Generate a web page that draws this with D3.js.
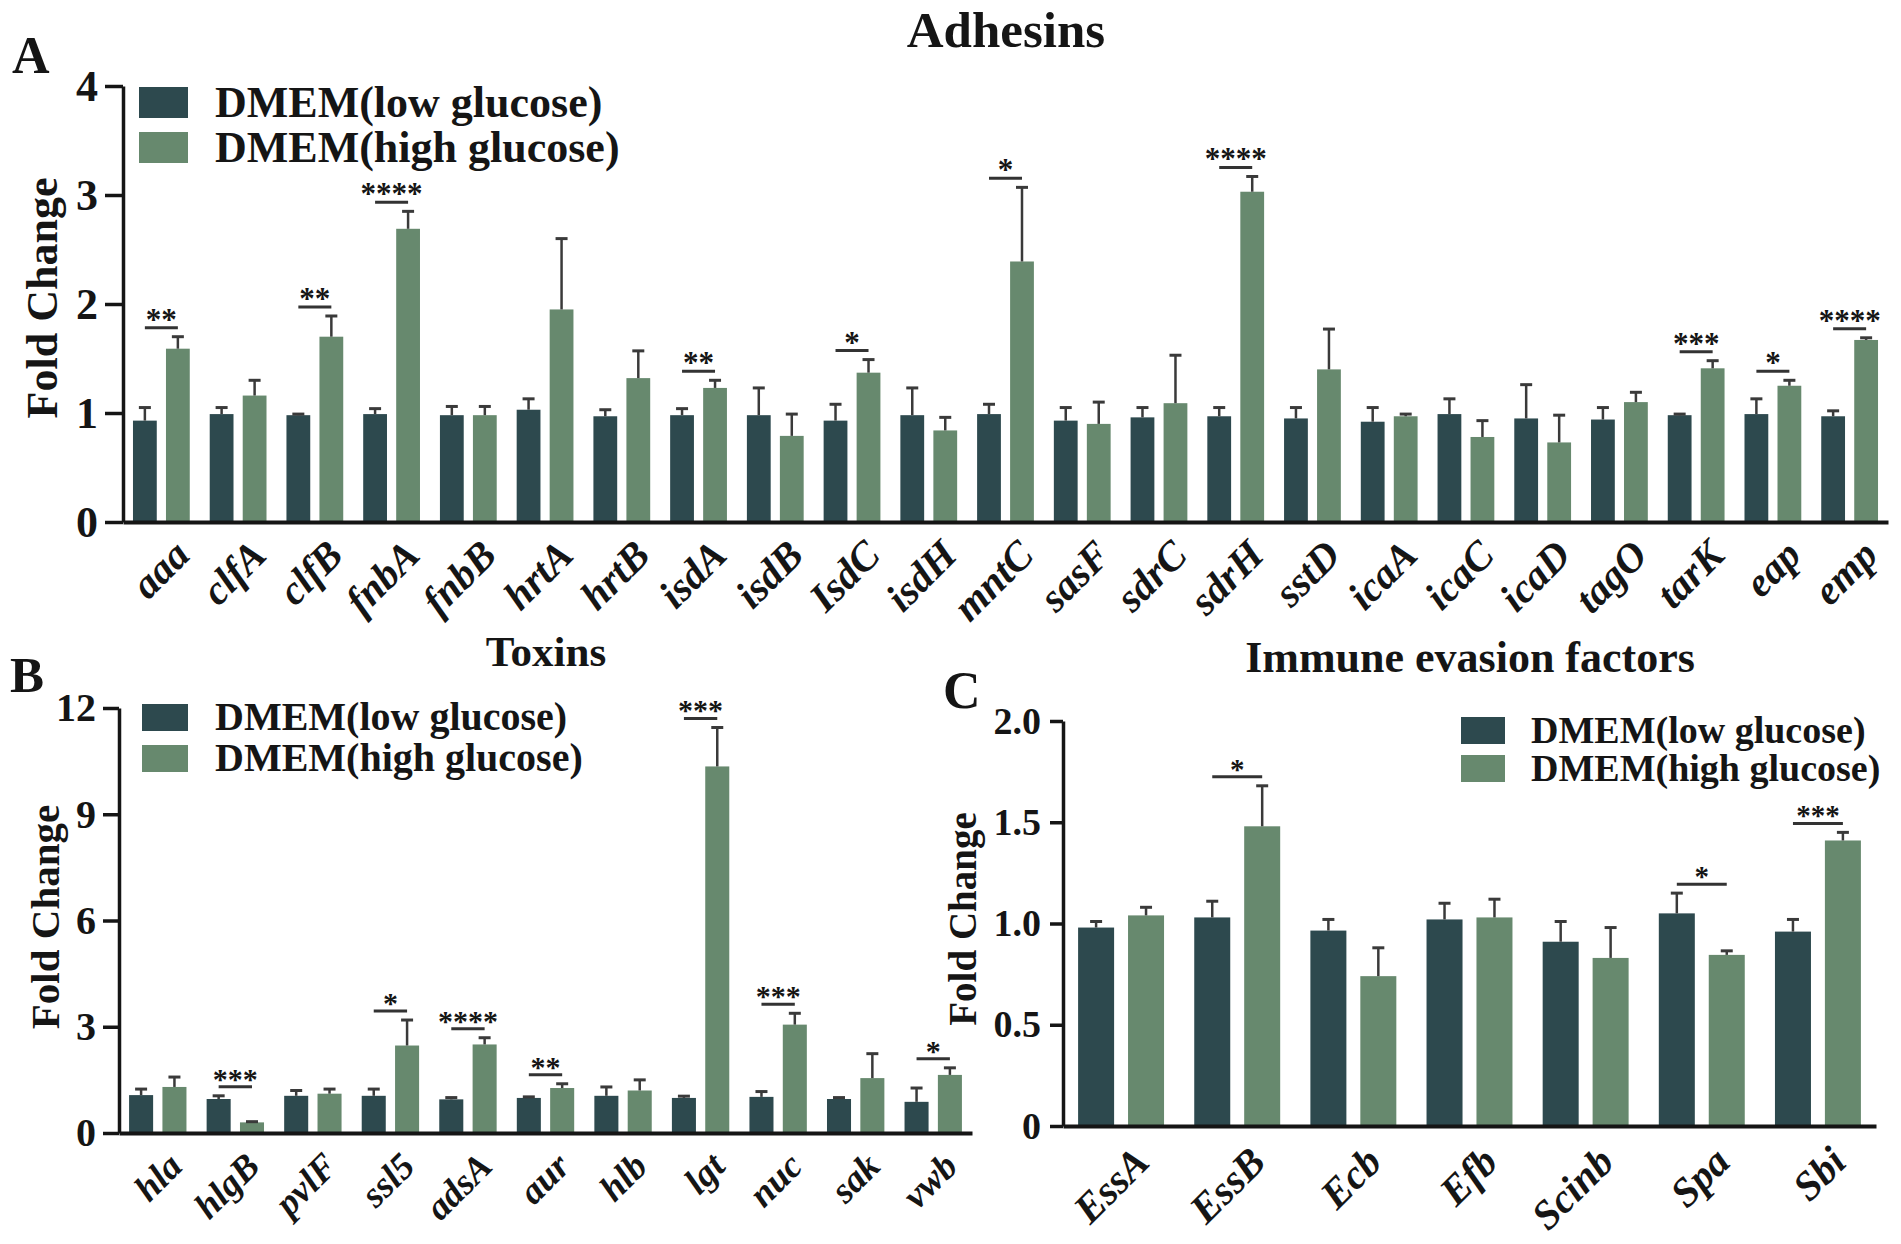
<!DOCTYPE html>
<html>
<head>
<meta charset="utf-8">
<title>Fold change of virulence genes</title>
<script src="https://cdn.jsdelivr.net/npm/d3@7/dist/d3.min.js"></script>
<style>
  body { margin: 0; background: #fff; }
  svg { display: block; }
  svg text { font-family: "Liberation Serif", "Times New Roman", serif; font-weight: bold; }
</style>
</head>
<body>
<script>
// values: mean fold change + upper error (SD)
var seriesNames = ["DMEM(low glucose)", "DMEM(high glucose)"];

// A - adhesins
var adhesinGenes = ["aaa", "clfA", "clfB", "fnbA", "fnbB", "hrtA", "hrtB", "isdA", "isdB", "IsdC", "isdH", "mntC",
                    "sasF", "sdrC", "sdrH", "sstD", "icaA", "icaC", "icaD", "tagO", "tarK", "eap", "emp"];
var adhesinLow     = [0.93, 0.99, 0.98, 0.99, 0.98, 1.03, 0.97, 0.98, 0.98, 0.93, 0.98, 0.99,
                      0.93, 0.96, 0.97, 0.95, 0.92, 0.99, 0.95, 0.94, 0.98, 0.99, 0.97];
var adhesinLowErr  = [0.12, 0.06, 0.01, 0.05, 0.08, 0.10, 0.06, 0.06, 0.25, 0.15, 0.25, 0.09,
                      0.12, 0.09, 0.08, 0.10, 0.13, 0.14, 0.31, 0.11, 0.01, 0.14, 0.05];
var adhesinHigh    = [1.59, 1.16, 1.70, 2.69, 0.98, 1.95, 1.32, 1.23, 0.79, 1.37, 0.84, 2.39,
                      0.90, 1.09, 3.03, 1.40, 0.97, 0.78, 0.73, 1.10, 1.41, 1.25, 1.67];
var adhesinHighErr = [0.11, 0.14, 0.19, 0.16, 0.08, 0.65, 0.25, 0.07, 0.20, 0.12, 0.12, 0.68,
                      0.20, 0.44, 0.14, 0.37, 0.02, 0.15, 0.25, 0.09, 0.07, 0.05, 0.02];
var adhesinSig     = ["**", "", "**", "****", "", "", "", "**", "", "*", "", "*",
                      "", "", "****", "", "", "", "", "", "***", "*", "****"];

// B - toxins
var toxinGenes   = ["hla", "hlgB", "pvlF", "ssl5", "adsA", "aur", "hlb", "lgt", "nuc", "sak", "vwb"];
var toxinLow     = [1.07, 0.96, 1.05, 1.05, 0.95, 0.99, 1.05, 0.99, 1.02, 0.96, 0.88];
var toxinLowErr  = [0.17, 0.09, 0.15, 0.19, 0.05, 0.03, 0.25, 0.05, 0.15, 0.04, 0.39];
var toxinHigh    = [1.30, 0.30, 1.11, 2.47, 2.50, 1.27, 1.20, 10.35, 3.06, 1.55, 1.64];
var toxinHighErr = [0.28, 0.02, 0.13, 0.72, 0.19, 0.12, 0.30, 1.10, 0.32, 0.69, 0.20];
var toxinSig     = ["", "***", "", "*", "****", "**", "", "***", "***", "", "*"];

// C - immune evasion factors
var immuneGenes   = ["EssA", "EssB", "Ecb", "Efb", "Scinb", "Spa", "Sbi"];
var immuneLow     = [0.98, 1.03, 0.965, 1.02, 0.91, 1.05, 0.96];
var immuneLowErr  = [0.03, 0.08, 0.055, 0.08, 0.10, 0.10, 0.06];
var immuneHigh    = [1.04, 1.48, 0.74, 1.03, 0.83, 0.845, 1.41];
var immuneHighErr = [0.04, 0.20, 0.14, 0.09, 0.15, 0.02, 0.04];
var immuneSig     = ["", "*", "", "", "", "*", "***"];

var width = 1901, height = 1244;
var colors = ["#2d494e", "#67896e"];
var ink = "#151515";
var serif = '"Liberation Serif", "Times New Roman", serif';

var svg = d3.select("body").append("svg")
    .attr("width", width)
    .attr("height", height);
svg.append("rect").attr("width", width).attr("height", height).attr("fill", "#fff");

function drawPanel(p) {
  var g = svg.append("g");
  var x = d3.scaleBand().domain(p.genes).range([p.left, p.right]);
  var y = d3.scaleLinear().domain([0, p.yMax]).range([p.bottom, p.top]);
  var bw = x.bandwidth();
  var offs = [0.13, 0.56], wFrac = 0.31;

  var rows = p.genes.map(function(d, i) {
    return {gene: d, vals: [p.low[i], p.high[i]], errs: [p.lowErr[i], p.highErr[i]], sig: p.sig[i]};
  });

  // bars + error bars
  rows.forEach(function(r) {
    [0, 1].forEach(function(k) {
      var bx = x(r.gene) + offs[k] * bw;
      var cx = bx + wFrac * bw / 2;
      g.append("rect")
        .attr("x", bx)
        .attr("y", y(r.vals[k]))
        .attr("width", wFrac * bw)
        .attr("height", y(0) - y(r.vals[k]))
        .attr("fill", colors[k]);
      var top = y(r.vals[k] + r.errs[k]);
      g.append("line")
        .attr("x1", cx).attr("x2", cx)
        .attr("y1", y(r.vals[k])).attr("y2", top)
        .attr("stroke", "#3a3a3a").attr("stroke-width", 2.5);
      g.append("line")
        .attr("x1", cx - 6).attr("x2", cx + 6)
        .attr("y1", top).attr("y2", top)
        .attr("stroke", "#3a3a3a").attr("stroke-width", 3);
    });

    // significance bracket
    if (r.sig) {
      var c0 = x(r.gene) + (offs[0] + wFrac / 2) * bw;
      var c1 = x(r.gene) + (offs[1] + wFrac / 2) * bw;
      var by = y(Math.max(r.vals[0] + r.errs[0], r.vals[1] + r.errs[1])) - 9;
      g.append("line")
        .attr("x1", c0).attr("x2", c1)
        .attr("y1", by).attr("y2", by)
        .attr("stroke", "#333").attr("stroke-width", 3);
      g.append("text")
        .attr("x", (c0 + c1) / 2)
        .attr("y", by + 2)
        .attr("text-anchor", "middle")
        .style("font-size", p.starFont + "px")
        .attr("fill", ink)
        .text(r.sig);
    }
  });

  // x axis with slanted italic gene names
  var xAxis = g.append("g")
    .attr("transform", "translate(0," + p.bottom + ")")
    .call(d3.axisBottom(x).tickSize(0).tickSizeOuter(0))
    .attr("font-family", serif);
  xAxis.select(".domain").attr("stroke", ink).attr("stroke-width", 4);
  xAxis.selectAll(".tick text")
    .attr("x", 0).attr("y", 0).attr("dy", "0.7em")
    .attr("transform", "translate(" + p.labelDx + "," + p.labelDy + ") rotate(-45)")
    .style("text-anchor", "end")
    .style("font-style", "italic")
    .style("font-size", p.xFont + "px")
    .attr("fill", ink);

  // y axis
  var yAxis = g.append("g")
    .attr("transform", "translate(" + p.left + ",0)")
    .call(d3.axisLeft(y).tickValues(p.ticks).tickFormat(p.fmt)
      .tickSize(p.tickLen).tickSizeOuter(0).tickPadding(p.tickPad))
    .attr("font-family", serif);
  yAxis.select(".domain").attr("stroke", ink).attr("stroke-width", 3.5);
  yAxis.selectAll(".tick line").attr("stroke", ink).attr("stroke-width", 3.5);
  yAxis.selectAll(".tick text")
    .style("font-size", p.yFont + "px")
    .attr("fill", ink);

  svg.append("text")
    .attr("transform", "translate(" + p.yTitle[0] + "," + p.yTitle[1] + ") rotate(-90)")
    .attr("text-anchor", "middle")
    .attr("dominant-baseline", "central")
    .style("font-size", p.yTitle[2] + "px")
    .attr("fill", ink)
    .text("Fold Change");

  // title and panel letter
  svg.append("text")
    .attr("x", p.title[1]).attr("y", p.title[2])
    .attr("text-anchor", "middle")
    .style("font-size", p.title[3] + "px")
    .attr("fill", ink)
    .text(p.title[0]);
  svg.append("text")
    .attr("x", p.letter[1]).attr("y", p.letter[2])
    .style("font-size", p.letter[3] + "px")
    .attr("fill", ink)
    .text(p.letter[0]);

  // legend
  var lg = p.legend;
  seriesNames.forEach(function(name, k) {
    svg.append("rect")
      .attr("x", lg.x).attr("y", lg.tops[k])
      .attr("width", lg.w).attr("height", lg.h)
      .attr("fill", colors[k]);
    svg.append("text")
      .attr("x", lg.textX).attr("y", lg.tops[k] + lg.h - 1)
      .style("font-size", lg.font + "px")
      .attr("fill", ink)
      .text(name);
  });
}

drawPanel({
  genes: adhesinGenes, low: adhesinLow, lowErr: adhesinLowErr,
  high: adhesinHigh, highErr: adhesinHighErr, sig: adhesinSig,
  left: 123, right: 1888, top: 86, bottom: 522, yMax: 4,
  ticks: [0, 1, 2, 3, 4], fmt: d3.format("d"),
  tickLen: 18, tickPad: 7, yFont: 44, xFont: 41, starFont: 31,
  labelDx: 10, labelDy: 15,
  yTitle: [42, 298, 44],
  title: ["Adhesins", 1006, 47, 51],
  letter: ["A", 12, 73, 52],
  legend: {x: 139, w: 49, h: 31, tops: [87, 132], textX: 215, font: 44}
});

drawPanel({
  genes: toxinGenes, low: toxinLow, lowErr: toxinLowErr,
  high: toxinHigh, highErr: toxinHighErr, sig: toxinSig,
  left: 119, right: 972, top: 708, bottom: 1133, yMax: 12,
  ticks: [0, 3, 6, 9, 12], fmt: d3.format("d"),
  tickLen: 16, tickPad: 7, yFont: 40, xFont: 37, starFont: 30,
  labelDx: 8, labelDy: 17,
  yTitle: [45, 917, 41],
  title: ["Toxins", 546, 666, 43],
  letter: ["B", 10, 692, 51],
  legend: {x: 142, w: 46, h: 27, tops: [704, 745], textX: 215, font: 40}
});

drawPanel({
  genes: immuneGenes, low: immuneLow, lowErr: immuneLowErr,
  high: immuneHigh, highErr: immuneHighErr, sig: immuneSig,
  left: 1063, right: 1876, top: 721, bottom: 1126, yMax: 2,
  ticks: [0, 0.5, 1, 1.5, 2], fmt: function(d) { return d === 0 ? "0" : d3.format(".1f")(d); },
  tickLen: 13, tickPad: 9, yFont: 38, xFont: 41, starFont: 29,
  labelDx: 10, labelDy: 18,
  yTitle: [962, 919, 39],
  title: ["Immune evasion factors", 1470, 672, 44],
  letter: ["C", 943, 708, 52],
  legend: {x: 1461, w: 44, h: 27, tops: [717, 755], textX: 1531, font: 38}
});
</script>
</body>
</html>
